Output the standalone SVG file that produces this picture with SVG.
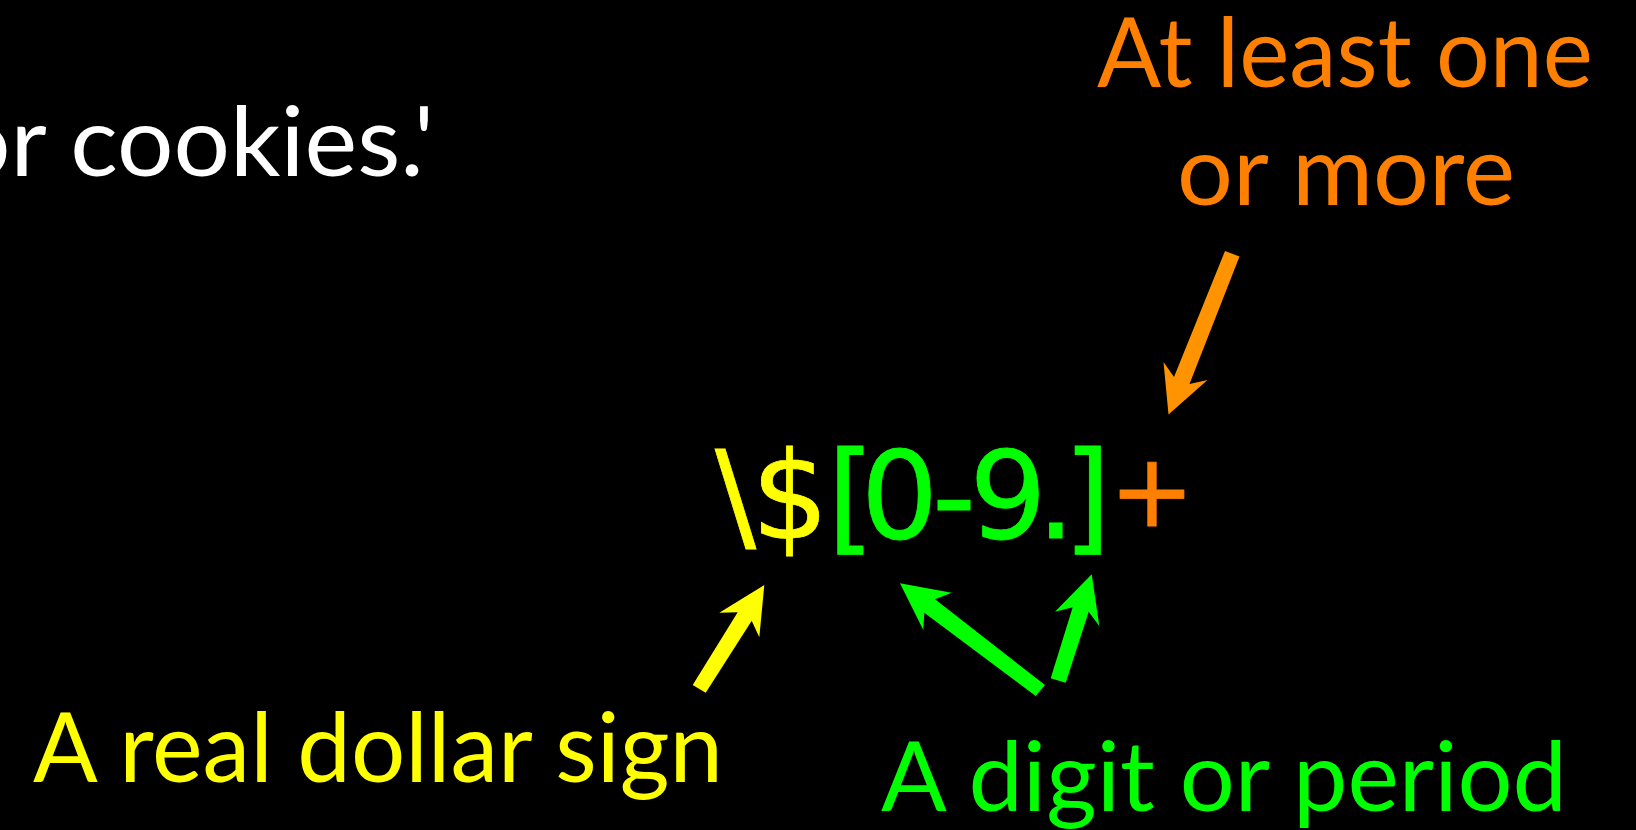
<svg xmlns="http://www.w3.org/2000/svg" width="1636" height="830" viewBox="0 0 1636 830">
  <style>
    .lbl { font-family: Lato, "Noto Sans", "Liberation Sans", sans-serif; font-size: 97px; }
    .mono { font-family: "DejaVu Sans", "Liberation Sans", sans-serif; font-size: 122px; stroke-width: 0.8px; }
    .white { fill: #FFFFFF; }
    .orange { fill: #FF8000; }
    .yellow { fill: #FFFF00; }
    .green { fill: #00FF00; }
    .mono .yellow { stroke: #FFFF00; }
    .mono .green { stroke: #00FF00; }
    .mono .orange { stroke: #FF8000; }
    .arrow-orange { fill: #FF9400; }
  </style>
  <rect x="0" y="0" width="1636" height="830" fill="#000000"/>

  <g id="quote">
    <text class="lbl white" x="-46" y="176" textLength="480" lengthAdjust="spacingAndGlyphs">or cookies.'</text>
  </g>

  <g id="plus-label">
    <text class="lbl orange" x="1097" y="87" textLength="496" lengthAdjust="spacingAndGlyphs">At least one</text>
    <text class="lbl orange" x="1177" y="205" textLength="338" lengthAdjust="spacingAndGlyphs">or more</text>
  </g>

  <g id="regex">
    <text class="mono" y="538" text-anchor="middle"><tspan class="yellow" x="735.5 790">\$</tspan><tspan class="green" x="851 899.5 954 1008 1056 1087">[0-9.]</tspan><tspan class="orange" x="1152" y="526" font-size="102">+</tspan></text>
  </g>

  <g id="dollar-label">
    <text class="lbl yellow" x="33" y="782" textLength="690" lengthAdjust="spacingAndGlyphs">A real dollar sign</text>
  </g>

  <g id="digit-label">
    <text class="lbl green" x="881" y="811" textLength="686" lengthAdjust="spacingAndGlyphs">A digit or period</text>
  </g>

  <g id="connectors">
    <polygon class="arrow-orange" points="1225,251 1239.5,256.5 1189.5,384 1207.5,380 1168.5,414.5 1163.5,362 1174,377"/>
    <polygon class="yellow" points="764.3,585 759.3,637.3 751.7,620.7 705.7,692.7 692.7,685 737.7,612.3 719.3,612.7"/>
    <polygon class="green" points="900,583.3 951.7,592.7 935,599.3 1045,685 1035.7,696 924.3,612.7 923.3,630"/>
    <polygon class="green" points="1091.7,574.3 1099.3,626 1088.7,611.7 1065.7,682.7 1050.7,678.3 1072.7,607.3 1055,611.7"/>
  </g>
</svg>
